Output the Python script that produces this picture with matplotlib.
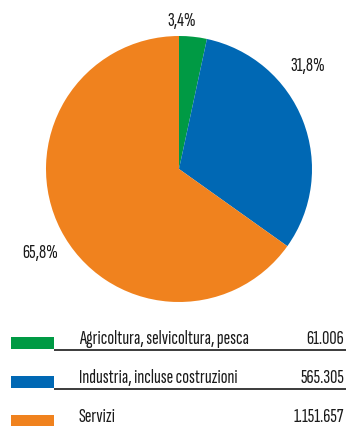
import matplotlib
matplotlib.use("Agg")
import matplotlib.pyplot as plt
from matplotlib.patches import Rectangle

# Sector data
sectors = ["Agricoltura, selvicoltura, pesca", "Industria, incluse costruzioni", "Servizi"]
shares = [3.4, 31.8, 65.8]
workers = ["61.006", "565.305", "1.151.657"]
colors = ["#009a44", "#0068b4", "#f0821e"]

font = ["Sofia Sans Extra Condensed", "DejaVu Sans"]
plt.rcParams["font.family"] = font

W, H = 346, 426
fig = plt.figure(figsize=(W / 100, H / 100), dpi=100)

# Pie: centre (179, 169), radius 133 px
cx, cy, r = 179, 169, 133
ax = fig.add_axes([(cx - r) / W, (H - cy - r) / H, 2 * r / W, 2 * r / H])
ax.pie(shares, colors=colors, startangle=90, counterclock=False, radius=1,
       wedgeprops=dict(linewidth=0))
ax.set_xlim(-1, 1)
ax.set_ylim(-1, 1)
ax.set_aspect("equal")
ax.axis("off")

# Overlay in pixel coordinates for labels and legend
ov = fig.add_axes([0, 0, 1, 1])
ov.set_xlim(0, W)
ov.set_ylim(H, 0)
ov.axis("off")

fs = 14.5
txt = dict(fontsize=fs, color="#1a1a1a", fontweight="light")
label_pos = [(182, 21), (308, 66), (40, 253)]
for (x, y), s in zip(label_pos, shares):
    ov.text(x, y, f"{s:.1f}%".replace(".", ","), ha="center", va="center", **txt)

row_base = [344, 383, 422]
for i, (name, val, col) in enumerate(zip(sectors, workers, colors)):
    b = row_base[i]
    ov.add_patch(Rectangle((11, b - 7), 43, 12, facecolor=col, edgecolor="none"))
    ov.text(79, b, name, ha="left", va="baseline", **txt)
    ov.text(344, b, val, ha="right", va="baseline", **txt)
    if i < len(sectors) - 1:
        ov.plot([54, 346], [b + 5.5, b + 5.5], color="#1a1a1a", lw=1.2,
                solid_capstyle="butt")

fig.savefig("out.png", dpi=100)
